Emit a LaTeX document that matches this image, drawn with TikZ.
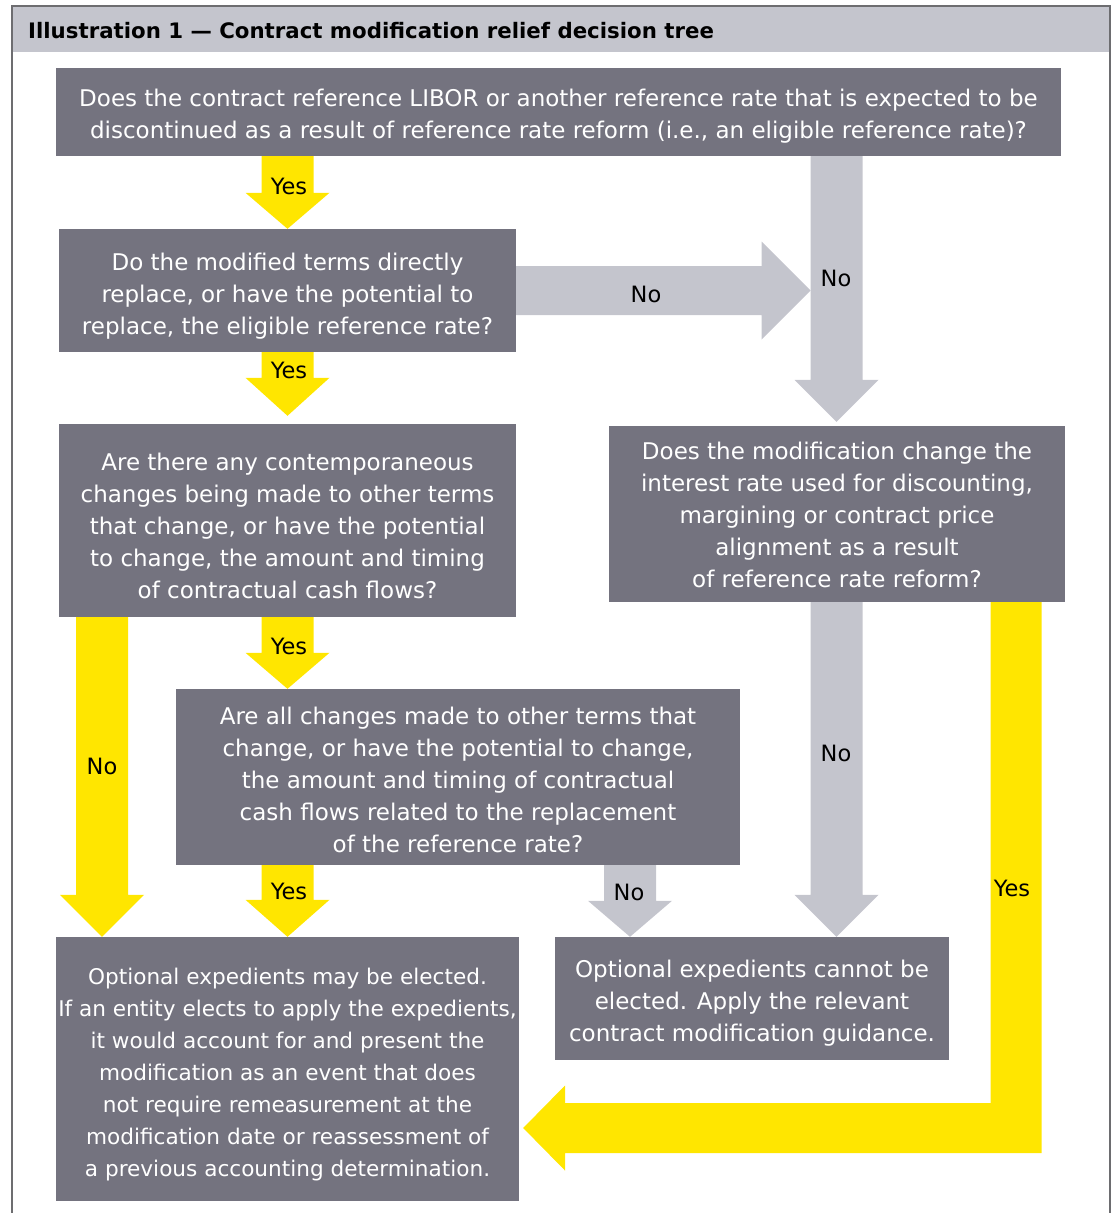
\documentclass[tikz,border=0pt]{standalone}
\usepackage{fontspec}
\setmainfont{DejaVu Sans}
\usetikzlibrary{calc}
\definecolor{boxgray}{HTML}{74737F}
\definecolor{lightg}{HTML}{C4C5CD}
\definecolor{eyyel}{HTML}{FFE600}
\definecolor{framec}{HTML}{6D6D70}
\tikzset{
  qbox/.style={fill=boxgray, text=white, align=center, inner sep=0pt,
    font=\fontsize{23}{32}\selectfont},
  lbl/.style={text=black, inner sep=0pt, font=\fontsize{22.5}{24}\selectfont},
}
% struts fixing the first line's height and the last line's depth
\newcommand{\tstr}[1]{\rule{0pt}{#1pt}}
\newcommand{\bstr}{\rule[-6pt]{0pt}{6pt}}
% vertical block arrow: colour, x, from node, to node, gap at tip, head length
\newcommand{\vblk}[6]{%
  \fill[#1] let \p1=(#3.south), \p2=(#4.north) in
    (#2pt-26pt,\y1) -- (#2pt+26pt,\y1) -- (#2pt+26pt,\y2+#5pt+#6pt)
    -- (#2pt+42pt,\y2+#5pt+#6pt) -- (#2pt,\y2+#5pt)
    -- (#2pt-42pt,\y2+#5pt+#6pt) -- (#2pt-26pt,\y2+#5pt+#6pt) -- cycle;}
\begin{document}
\begin{tikzpicture}[x=1pt,y=-1pt]
\useasboundingbox (0,0) rectangle (1116,1213);
% frame and header
\fill[lightg] (12,6) rectangle (1110,52);
\draw[framec, line width=2.4pt] (12,1213) -- (12,6) -- (1110,6) -- (1110,1213);
\node[anchor=west, inner sep=0pt, font=\fontsize{21.3}{24}\selectfont\bfseries] (title) at (28,31)
  {Illustration 1 — Contract modification relief decision tree};

% boxes
\node[qbox, minimum width=1005pt, minimum height=88pt] (q1) at (558.5,112)
  {\tstr{26}Does the contract reference LIBOR or another reference rate that is expected to be\\
   discontinued as a result of reference rate reform (i.e., an eligible reference rate)?\bstr};
\node[qbox, minimum width=457pt, minimum height=123pt] (q2) at (287.5,290.5)
  {\tstr{29}Do the modified terms directly\\ replace, or have the potential to\\ replace, the eligible reference rate?\bstr};
\node[qbox, minimum width=457pt, minimum height=193pt] (q3) at (287.5,520.5)
  {\tstr{33}Are there any contemporaneous\\ changes being made to other terms\\ that change, or have the potential\\
   to change, the amount and timing\\ of contractual cash flows?\bstr};
\node[qbox, minimum width=456pt, minimum height=176pt] (q4) at (837,514)
  {\tstr{24}Does the modification change the\\ interest rate used for discounting,\\ margining or contract price\\
   alignment as a result\\ of reference rate reform?\bstr};
\node[qbox, minimum width=564pt, minimum height=176pt] (q5) at (458,777)
  {\tstr{28}Are all changes made to other terms that\\ change, or have the potential to change,\\
   the amount and timing of contractual\\ cash flows related to the replacement\\ of the reference rate?\bstr};
\node[qbox, minimum width=463pt, minimum height=264pt, font=\fontsize{21.6}{32}\selectfont] (r1) at (287.5,1069)
  {\tstr{28}Optional expedients may be elected.\\ If an entity elects to apply the expedients,\\
   it would account for and present the\\ modification as an event that does\\
   not require remeasurement at the\\ modification date or reassessment of\\
   a previous accounting determination.\bstr};
\node[qbox, minimum width=394pt, minimum height=123pt] (r2) at (752,998.5)
  {\tstr{27}Optional expedients cannot be\\ elected. Apply the relevant\\ contract modification guidance.\bstr};

% vertical block arrows
\vblk{eyyel}{287.5}{q1}{q2}{0}{36}
\vblk{eyyel}{287.5}{q2}{q3}{8}{38}
\vblk{eyyel}{287.5}{q3}{q5}{0}{36}
\vblk{eyyel}{287.5}{q5}{r1}{0}{37}
\vblk{eyyel}{102}{q3}{r1}{0}{42}
\vblk{lightg}{630}{q5}{r2}{0}{36}
\vblk{lightg}{836.5}{q4}{r2}{0}{42}
\vblk{lightg}{836.5}{q1}{q4}{4}{42}

% horizontal "No" arrow into the gray shaft
\coordinate (join) at (810.5,290.5);
\fill[lightg] let \p1=(q2.east), \p2=(join) in
  (\x1,\y1+24.5pt) -- (\x2-49pt,\y1+24.5pt) -- (\x2-49pt,\y1+49pt) -- (\x2,\y1)
  -- (\x2-49pt,\y1-49pt) -- (\x2-49pt,\y1-24.5pt) -- (\x1,\y1-24.5pt) -- cycle;

% L-shaped yellow "Yes" arrow
\fill[eyyel] let \p1=(q4.south), \p2=(r1.east) in
  (990.5pt,\y1) -- (1041.5pt,\y1) -- (1041.5pt,-1153pt) -- (565pt,-1153pt)
  -- (565pt,-1170.5pt) -- (\x2+4pt,\y2-59pt) -- (565pt,-1085.5pt)
  -- (565pt,-1103pt) -- (990.5pt,-1103pt) -- cycle;

% labels
\node[lbl] (y1) at (289,186) {Yes};
\node[lbl] (y2) at (289,370) {Yes};
\node[lbl] (y3) at (289,646) {Yes};
\node[lbl] (y4) at (289,891) {Yes};
\node[lbl] (n1) at (102,766) {No};
\node[lbl] (n2) at (646,294) {No};
\node[lbl] (n3) at (836,278) {No};
\node[lbl] (n4) at (836,753) {No};
\node[lbl] (n5) at (629,892) {No};
\node[lbl] (y5) at (1012,888) {Yes};
\end{tikzpicture}
\end{document}
